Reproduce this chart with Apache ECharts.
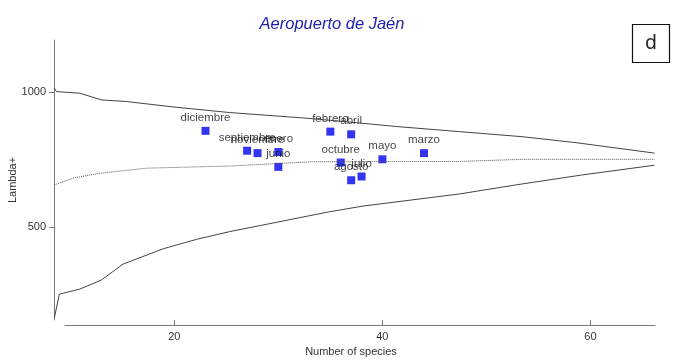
<!DOCTYPE html>
<html>
<head>
<meta charset="utf-8">
<script src="https://cdn.jsdelivr.net/npm/echarts@6/dist/echarts.min.js"></script>
<style>html,body{margin:0;padding:0;background:#fff;}#c{width:689px;height:364px;}</style>
</head>
<body>
<div id="c"></div>
<script>
// Observed points
const months = ['diciembre','septiembre','noviembre','enero','junio','febrero','abril','octubre','julio','agosto','mayo','marzo'];
const species = [23, 27, 28, 30, 30, 35, 37, 36, 38, 37, 40, 44];
const lambda = [857, 783, 774, 778, 723, 854, 844, 739, 687, 673, 751, 774];

// Upper 95% limit
const upperX = [8.47, 8.68, 10.92, 13.0, 15.41, 19.86, 25.33, 32.7, 36.5, 41.34, 47.4, 53.5, 58.6, 66.16];
const upperY = [1016, 1003, 997, 972, 966, 946, 925, 904, 891, 873, 854, 835, 813, 774];
// Mean
const meanX = [8.47, 10.28, 12.84, 17.33, 25.33, 33.3, 47.4, 53.5, 66.16];
const meanY = [656, 681, 699, 718, 726, 742, 743, 751, 751];
// Lower 95% limit
const lowerX = [8.47, 8.95, 10.92, 13.0, 15.08, 18.93, 22.13, 25.33, 34.94, 38.14, 47.4, 52.87, 59.24, 66.16];
const lowerY = [160, 249, 268, 302, 361, 418, 453, 482, 556, 577, 622, 656, 693, 729];

const xTicks = [20, 40, 60];
const yTicks = [500, 1000];

const zip = (a, b) => a.map((v, i) => [v, b[i]]);
const font = 'Liberation Sans, Arial, sans-serif';

const chart = echarts.init(document.getElementById('c'), null, {renderer: 'canvas'});
chart.setOption({
  animation: false,
  backgroundColor: '#fff',
  title: {
    text: 'Aeropuerto de Jaén',
    left: 327, top: 11, textAlign: 'center',
    textStyle: {fontFamily: font, fontStyle: 'italic', fontWeight: 'normal', fontSize: 16.5, color: '#2222aa'}
  },
  grid: [
    {left: 54, right: 34, top: 40, bottom: 44, outerBoundsMode: 'none', containLabel: false},
    {left: 65, right: 34, top: 40, bottom: 44, outerBoundsMode: 'none', containLabel: false}
  ],
  xAxis: [
    {gridIndex: 0, type: 'value', min: 8.44, max: 66.2, show: false},
    {gridIndex: 1, type: 'value', min: 9.5, max: 66.2, offset: 5,
     name: 'Number of species', nameLocation: 'middle', nameGap: 21, nameMoveOverlap: false,
     nameTextStyle: {fontFamily: font, fontSize: 11, color: '#333', padding: [0, 18, 0, 0]},
     axisLine: {show: true, lineStyle: {color: '#777', width: 1}},
     axisTick: {show: true, inside: true, length: 5, customValues: xTicks, lineStyle: {color: '#777'}},
     axisLabel: {customValues: xTicks, fontFamily: font, fontSize: 11, color: '#333', margin: 6},
     splitLine: {show: false}}
  ],
  yAxis: [
    {gridIndex: 0, type: 'value', min: 153, max: 1195,
     name: 'Lambda+', nameLocation: 'middle', nameGap: 36, nameMoveOverlap: false,
     nameTextStyle: {fontFamily: font, fontSize: 11, color: '#333'},
     axisLine: {show: true, lineStyle: {color: '#777', width: 1}},
     axisTick: {show: true, length: 5, customValues: yTicks, lineStyle: {color: '#777'}},
     axisLabel: {customValues: yTicks, formatter: v => String(v), fontFamily: font, fontSize: 11, color: '#333', margin: 8},
     splitLine: {show: false}},
    {gridIndex: 1, type: 'value', min: 153, max: 1195, show: false}
  ],
  series: [
    {type: 'line', xAxisIndex: 0, yAxisIndex: 0, data: zip(upperX, upperY), showSymbol: false,
     lineStyle: {color: '#444', width: 1}},
    {type: 'line', xAxisIndex: 0, yAxisIndex: 0, data: zip(meanX, meanY), showSymbol: false,
     lineStyle: {color: '#555', width: 1, type: [1, 1]}},
    {type: 'line', xAxisIndex: 0, yAxisIndex: 0, data: zip(lowerX, lowerY), showSymbol: false,
     lineStyle: {color: '#444', width: 1}},
    {type: 'scatter', xAxisIndex: 0, yAxisIndex: 0, symbol: 'rect', symbolSize: 8,
     data: species.map((s, i) => ({value: [s, lambda[i]], name: months[i]})),
     itemStyle: {color: '#0000f0'},
     label: {show: true, position: 'top', distance: 3, formatter: p => p.name,
             fontFamily: font, fontSize: 11.5, color: '#111'}}
  ],
  graphic: [
    {type: 'rect', shape: {x: 632.5, y: 24.5, width: 37, height: 38},
     style: {fill: '#fff', stroke: '#111', lineWidth: 1.2}},
    {type: 'text', x: 651, y: 44,
     style: {text: 'd', fontFamily: 'DejaVu Sans, sans-serif', fontSize: 19, fill: '#222', align: 'center', verticalAlign: 'middle'}}
  ]
});
</script>
</body>
</html>
